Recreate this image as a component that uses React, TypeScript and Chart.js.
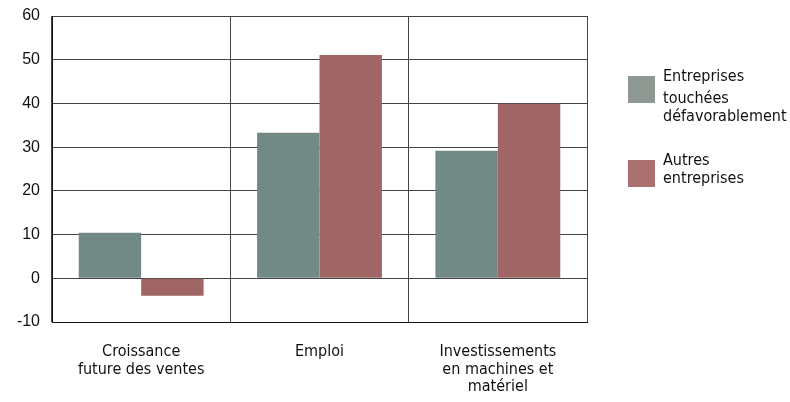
import React, { useEffect, useRef } from "react";
import { Chart, registerables } from "chart.js";

Chart.register(...registerables);

const categories: string[][] = [
  ["Croissance", "future des ventes"],
  ["Emploi"],
  ["Investissements", "en machines et", "matériel"],
];
const seriesNames: string[][] = [
  ["Entreprises", "touchées", "défavorablement"],
  ["Autres", "entreprises"],
];
const touchees = [10.4, 33.3, 29.2];
const autres = [-4.0, 51.1, 39.9];
const barColors = ["#728a85", "#a06565"];
const legendColors = ["#8f9893", "#ab7070"];
const yMin = -10;
const yMax = 60;
const yStep = 10;

const FONT = "'Liberation Sans Narrow', 'DejaVu Sans Condensed', 'Liberation Sans', sans-serif";

const legendPlugin = {
  id: "customLegend",
  afterDraw(chart: any) {
    const ctx = chart.ctx;
    ctx.save();
    const boxes = [76, 160];
    const lineY = [
      [77, 99, 117],
      [161, 179],
    ];
    seriesNames.forEach((lines, i) => {
      ctx.fillStyle = legendColors[i];
      ctx.fillRect(628, boxes[i], 27, 27);
      ctx.fillStyle = "#111";
      ctx.font = "16px " + FONT;
      ctx.textBaseline = "middle";
      ctx.textAlign = "left";
      lines.forEach((t, j) => ctx.fillText(t, 663, lineY[i][j]));
    });
    ctx.restore();
  },
};

export default function App() {
  const ref = useRef<HTMLCanvasElement>(null);
  useEffect(() => {
    document.body.style.margin = "0";
    const chart = new Chart(ref.current!, {
      type: "bar",
      data: {
        labels: categories as any,
        datasets: [
          {
            label: seriesNames[0].join(" "),
            data: touchees,
            backgroundColor: barColors[0],
            categoryPercentage: 0.7,
            barPercentage: 1.0,
          },
          {
            label: seriesNames[1].join(" "),
            data: autres,
            backgroundColor: barColors[1],
            categoryPercentage: 0.7,
            barPercentage: 1.0,
          },
        ],
      },
      options: {
        animation: false,
        responsive: false,
        devicePixelRatio: 1,
        layout: { padding: { top: 16, right: 203, left: 0, bottom: 0 } },
        plugins: { legend: { display: false }, tooltip: { enabled: false } },
        scales: {
          x: {
            grid: { color: "#444", lineWidth: 1, drawTicks: false, offset: true },
            border: { color: "#111", width: 1 },
            ticks: {
              color: "#111",
              font: { family: FONT, size: 16, lineHeight: 1.1 },
              padding: 21,
              maxRotation: 0,
              autoSkip: false,
            },
            afterFit: (s: any) => {
              s.height = 80;
              s.paddingLeft = 0;
              s.paddingRight = 0;
            },
          },
          y: {
            min: yMin,
            max: yMax,
            grid: { color: "#444", lineWidth: 1, drawTicks: false },
            border: { color: "#111", width: 1 },
            ticks: {
              stepSize: yStep,
              color: "#111",
              font: { family: "'Liberation Sans', Arial, sans-serif", size: 16 },
              padding: 12,
            },
            afterFit: (s: any) => {
              s.width = 52;
              s.paddingTop = 0;
              s.paddingBottom = 0;
            },
          },
        },
      },
      plugins: [legendPlugin],
    });
    return () => chart.destroy();
  }, []);
  return (
    <div style={{ width: 790, height: 402 }}>
      <canvas ref={ref} width={790} height={402} style={{ display: "block" }} />
    </div>
  );
}
